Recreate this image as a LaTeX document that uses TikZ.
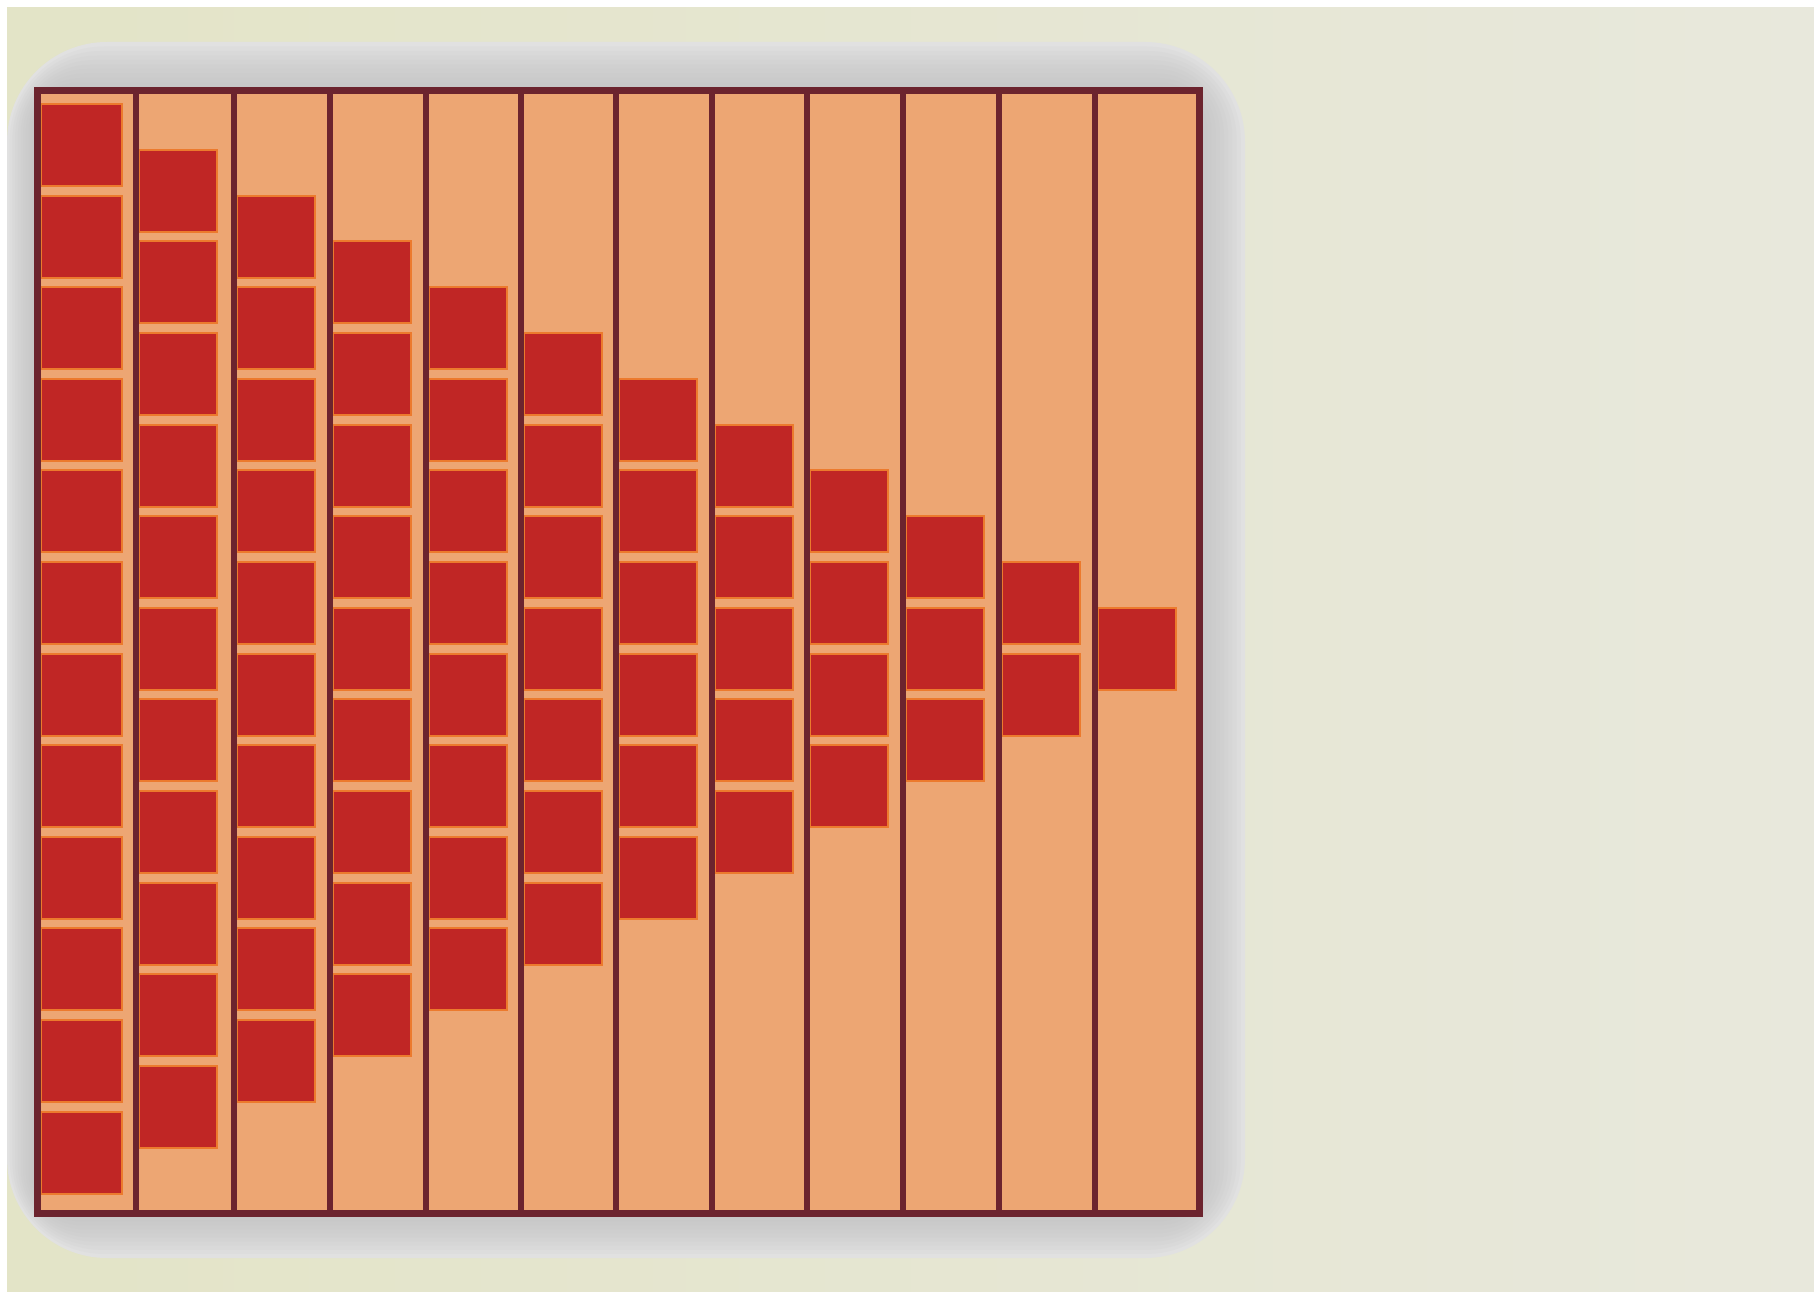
\documentclass[tikz,border=0pt]{standalone}
\usepackage{tikz}
\definecolor{paper}{RGB}{227,228,199}
\definecolor{paperright}{RGB}{232,232,220}
\definecolor{haze}{RGB}{225,225,225}
\definecolor{hazedark}{RGB}{190,190,190}
\definecolor{maroon}{RGB}{108,36,46}
\definecolor{apricot}{RGB}{237,166,115}
\definecolor{brick}{RGB}{192,38,37}
\definecolor{tangerine}{RGB}{236,122,45}
\tikzset{
  bead/.style={fill=brick,draw=tangerine,line width=2pt},
  rod/.style={draw=maroon,line width=6pt},
  board/.style={draw=maroon,line width=7pt},
}
\begin{document}
\begin{tikzpicture}[x=1pt,y=-1pt]
  \useasboundingbox (0,0) rectangle (1814,1292);
  \fill[white] (0,0) rectangle (1814,1292);
  \shade[left color=paper,right color=paperright] (7,8) rectangle (1814,1292);
  % soft shadow behind the board
  \fill[haze,rounded corners=100pt] (7,42) rectangle (1245,1258);
  \foreach \i in {1,...,10}{
    \pgfmathsetmacro{\r}{100-\i*6}
    \fill[hazedark,opacity=0.1,rounded corners=\r pt] (7+\i*2.7,42+\i*4.5) rectangle (1245-\i*4.2,1258-\i*4.1);
  }
  % board
  \fill[apricot] (37,91) rectangle (1199,1213);
  % beads, one column less each step
  \foreach \x/\w [count=\j from 0] in {41/81,139/78,237/78,333/78,429/78,524/78,619/78,715/78,810/78,906/78,1002/78,1098/78}{
    \pgfmathtruncatemacro{\n}{11-\j}
    \foreach \k in {0,...,\n}{
      \pgfmathsetmacro{\y}{104+\j*45.8+\k*91.6}
      \draw[bead] (\x,\y) rectangle (\x+\w,\y+82);
    }
  }
  % rods
  \foreach \d in {136,234,330,426,521,616,712,807,903,999,1095}
    \draw[rod] (\d,91) -- (\d,1213);
  \draw[board] (37.5,91) rectangle (1199,1213);
\end{tikzpicture}
\end{document}
